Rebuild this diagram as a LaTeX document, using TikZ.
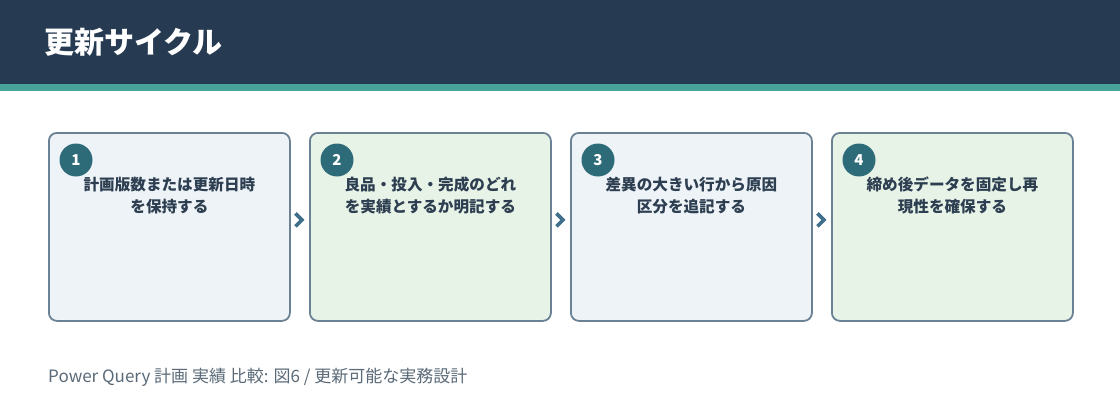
\documentclass[tikz,border=0pt]{standalone}
\usepackage{fontspec}
\setmainfont{Noto Sans CJK JP}
\usetikzlibrary{calc}
\begin{document}
\begin{tikzpicture}[x=1pt,y=-1pt,
  card/.style={draw=cardline,line width=1.8pt,rounded corners=8pt,minimum width=241pt,minimum height=188pt,anchor=north west,inner sep=0pt},
  cardA/.style={card,fill=cardblue},
  cardB/.style={card,fill=cardgreen},
  badge/.style={circle,fill=badgecol,minimum size=33pt,inner sep=0pt,text=white,font=\fontsize{15}{15}\selectfont\bfseries},
  cardtext/.style={align=center,text=txtdark,font=\fontsize{15.6}{22}\selectfont\bfseries,anchor=north,inner sep=0pt},
  chev/.style={draw=chevcol,line width=3.6pt,line cap=butt,line join=miter}
]
\definecolor{headbg}{HTML}{263A52}
\definecolor{teal}{HTML}{48A39A}
\definecolor{cardline}{HTML}{6B8294}
\definecolor{cardblue}{HTML}{EEF3F8}
\definecolor{cardgreen}{HTML}{E8F3E8}
\definecolor{badgecol}{HTML}{2D6B78}
\definecolor{txtdark}{HTML}{2C3E50}
\definecolor{chevcol}{HTML}{3F6F8A}
\definecolor{foot}{HTML}{5A6A78}
\useasboundingbox (0,0) rectangle (1120,420);
\fill[white] (0,0) rectangle (1120,420);
\fill[headbg] (0,0) rectangle (1120,84);
\fill[teal] (0,84) rectangle (1120,91);
\node[anchor=west,text=white,font=\fontsize{30}{30}\selectfont\bfseries,inner sep=0pt] (title) at (44,42) {更新サイクル};

\node[cardA] (c1) at (48,132) {};
\node[cardB] (c2) at (309,132) {};
\node[cardA] (c3) at (570,132) {};
\node[cardB] (c4) at (831,132) {};

\node[badge] (b1) at (76,160) {1};
\node[badge] (b2) at (337,160) {2};
\node[badge] (b3) at (598,160) {3};
\node[badge] (b4) at (859,160) {4};

\node[cardtext] (t1) at ([yshift=-45pt]c1.north) {計画版数または更新日時\\を保持する};
\node[cardtext] (t2) at ([yshift=-45pt]c2.north) {良品・投入・完成のどれ\\を実績とするか明記する};
\node[cardtext] (t3) at ([yshift=-45pt]c3.north) {差異の大きい行から原因\\区分を追記する};
\node[cardtext] (t4) at ([yshift=-45pt]c4.north) {締め後データを固定し再\\現性を確保する};

\foreach \a/\b [count=\i] in {c1/c2,c2/c3,c3/c4}{
  \coordinate (m\i) at ($(\a.east)!0.5!(\b.west)$);
}
\foreach \i in {1,2,3}{
  \draw[chev] ([shift={(-4.5,-13.5)}]m\i) -- ++(6.5,6.5) -- ++(-6.5,6.5);
}

\node[anchor=west,text=foot,font=\fontsize{17}{17}\selectfont,inner sep=0pt] (footer) at (48,377) {Power Query 計画 実績 比較: 図6 / 更新可能な実務設計};
\end{tikzpicture}
\end{document}
